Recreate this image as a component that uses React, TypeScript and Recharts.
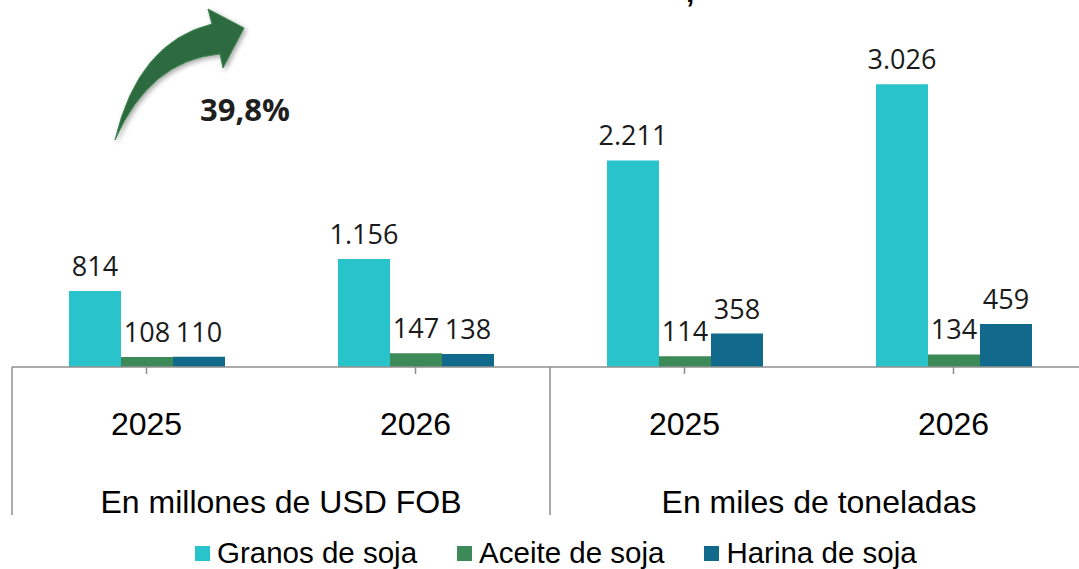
import { BarChart, Bar, XAxis, YAxis, Legend, LabelList } from "recharts";

const categories = ["2025", "2026", "2025", "2026"];
const groupLabels = ["En millones de USD FOB", "En miles de toneladas"];
const granos = [814, 1156, 2211, 3026];
const aceite = [108, 147, 114, 134];
const harina = [110, 138, 358, 459];

const SERIES = [
  { key: "granos", name: "Granos de soja", color: "#29c4cb" },
  { key: "aceite", name: "Aceite de soja", color: "#3c8a58" },
  { key: "harina", name: "Harina de soja", color: "#116a8b" },
];

const CHART_W = 1100;
const CHART_H = 569;
const MARGIN = { top: 40, right: 12, left: 12, bottom: 0 };
const HALF_BAND = (CHART_W - MARGIN.left - MARGIN.right) / categories.length / 2;
const TICK_SIZE = 7;
const AXIS_COLOR = "#8f8f8f";

const data = categories.map((year, i) => ({
  key: `${i}-${year}`,
  year,
  granos: granos[i],
  aceite: aceite[i],
  harina: harina[i],
}));

// thousands separator as in es-AR
const fmt = (v: any) => String(v).replace(/\B(?=(\d{3})+(?!\d))/g, ".");

function GroupTick(props: any) {
  const { x, y, index } = props;
  const axisY = y - TICK_SIZE;
  const last = index === categories.length - 1;
  return (
    <g>
      <text
        x={x}
        y={axisY + 68}
        textAnchor="middle"
        fontFamily="'Liberation Sans', Arial, sans-serif"
        fontSize={32}
        fill="#000"
      >
        {categories[index]}
      </text>
      {index % 2 === 0 && (
        <>
          <line x1={x - HALF_BAND} x2={x - HALF_BAND} y1={axisY} y2={axisY + 148} stroke={AXIS_COLOR} strokeWidth={1.5} />
          <text
            x={x + HALF_BAND}
            y={axisY + 146}
            textAnchor="middle"
            fontFamily="'Liberation Sans', Arial, sans-serif"
            fontSize={32}
            fill="#000"
          >
            {groupLabels[index / 2]}
          </text>
        </>
      )}
      {last && (
        <line x1={x + HALF_BAND} x2={x + HALF_BAND} y1={axisY} y2={axisY + 148} stroke={AXIS_COLOR} strokeWidth={1.5} />
      )}
    </g>
  );
}

function LegendContent() {
  return (
    <div style={{ height: 40, boxSizing: "border-box", paddingTop: 11, paddingLeft: 195 - MARGIN.left, display: "flex" }}>
      {SERIES.map((s) => (
        <div key={s.key} style={{ display: "flex", alignItems: "center", height: 26, marginRight: 40 }}>
          <span style={{ width: 15, height: 15, background: s.color, marginRight: 7, display: "inline-block" }} />
          <span
            style={{
              fontFamily: "'Liberation Sans', Arial, sans-serif",
              fontSize: 29.5,
              lineHeight: "26px",
              color: "#000",
              whiteSpace: "nowrap",
            }}
          >
            {s.name}
          </span>
        </div>
      ))}
    </div>
  );
}

export default function App() {
  return (
    <div style={{ position: "absolute", left: 0, top: 0, width: 1079, height: 569, overflow: "hidden", background: "#fff" }}>
      <BarChart width={CHART_W} height={CHART_H} data={data} margin={MARGIN} barGap={0}>
        <YAxis hide domain={[0, 3500]} />
        <XAxis
          dataKey="key"
          height={162}
          interval={0}
          tickSize={TICK_SIZE}
          tickMargin={0}
          axisLine={{ stroke: AXIS_COLOR, strokeWidth: 1.5 }}
          tickLine={{ stroke: AXIS_COLOR, strokeWidth: 1.5 }}
          tick={<GroupTick />}
        />
        <Legend verticalAlign="bottom" content={<LegendContent />} />
        {SERIES.map((s) => (
          <Bar key={s.key} dataKey={s.key} name={s.name} fill={s.color} barSize={52} isAnimationActive={false}>
            <LabelList
              dataKey={s.key}
              position="top"
              offset={15}
              formatter={fmt}
              fill="#1a1a1a"
              fontSize={27}
              fontFamily="'Open Sans', sans-serif"
            />
          </Bar>
        ))}
      </BarChart>
      <svg width={1079} height={569} style={{ position: "absolute", left: 0, top: 0, pointerEvents: "none" }}>
        <defs>
          <filter id="arrowShadow" x="-20%" y="-20%" width="140%" height="140%">
            <feDropShadow dx={2} dy={2} stdDeviation={2.5} floodColor="#000" floodOpacity={0.35} />
          </filter>
        </defs>
        <path
          d="M 115 140 Q 138 42 212 24 L 208 9 L 244 28 L 223 68 L 220 54 Q 150 60 115 140 Z"
          fill="#2e6b3f"
          stroke="#3f8552"
          strokeWidth={1}
          filter="url(#arrowShadow)"
        />
        <text x={200} y={121} fontFamily="'Open Sans', sans-serif" fontWeight={700} fontSize={31} fill="#1f1f1f">
          39,8%
        </text>
        <text x={686} y={2} fontFamily="'Liberation Sans', Arial, sans-serif" fontWeight={700} fontSize={30} fill="#000">
          ,
        </text>
      </svg>
    </div>
  );
}
